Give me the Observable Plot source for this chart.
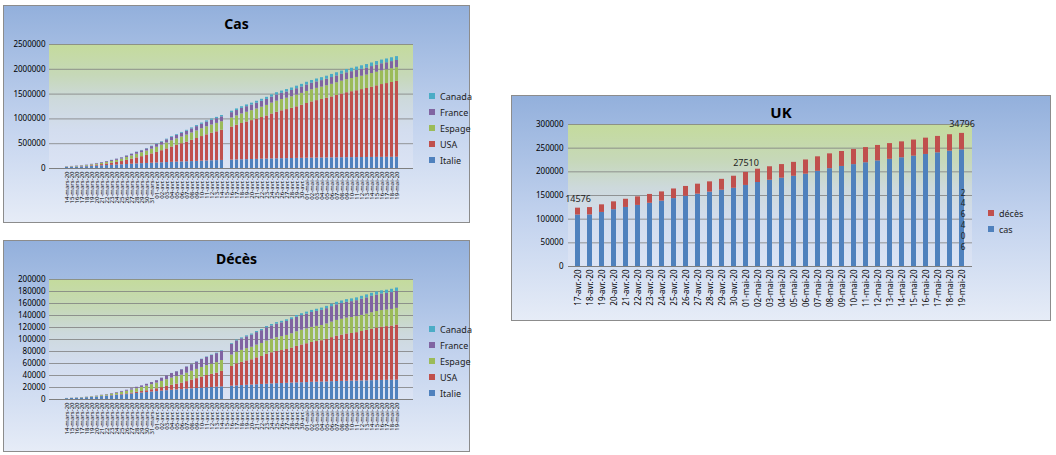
<!DOCTYPE html>
<html><head><meta charset="utf-8">
<script src="https://cdn.jsdelivr.net/npm/d3@7"></script>
<script src="https://cdn.jsdelivr.net/npm/@observablehq/plot@0.6"></script>
<style>
body{margin:0;background:#fff;font-family:"Noto Sans",sans-serif;width:1056px;height:455px;position:relative;overflow:hidden}
.panel{position:absolute;border:1px solid #8c8c8c;background:linear-gradient(#93b0dc,#c3d3ee 55%,#e6ecf7);box-sizing:border-box}
.title{position:absolute;left:0;right:0;text-align:center;font-weight:bold;font-size:14px;color:#000}
.pa{position:absolute;background:linear-gradient(#c4db9c,#c6d8b8 25%,#cdd9dc 45%,#d3ddef 70%,#dbe3f4)}
.chart{position:absolute}
.leg{position:absolute;font-size:9px;color:#222}
.leg div{height:16px;display:flex;align-items:center}
.leg span{display:inline-block;width:6px;height:6px;margin-right:5px}
</style></head><body>
<div class="panel" id="p1" style="left:3px;top:5px;width:467px;height:218px"></div>
<div class="panel" id="p2" style="left:3px;top:240px;width:467px;height:212px"></div>
<div class="panel" id="p3" style="left:511px;top:95px;width:540px;height:226px"></div>
<script>
const dates = ["14-mars-20","15-mars-20","16-mars-20","17-mars-20","18-mars-20","19-mars-20","20-mars-20","21-mars-20","22-mars-20","23-mars-20","24-mars-20","25-mars-20","26-mars-20","27-mars-20","28-mars-20","29-mars-20","30-mars-20","31-mars-20",
"01-avr.-20","02-avr.-20","03-avr.-20","04-avr.-20","05-avr.-20","06-avr.-20","07-avr.-20","08-avr.-20","09-avr.-20","10-avr.-20","11-avr.-20","12-avr.-20","13-avr.-20","14-avr.-20","15-avr.-20","16-avr.-20","17-avr.-20","18-avr.-20","19-avr.-20","20-avr.-20","21-avr.-20","22-avr.-20","23-avr.-20","24-avr.-20","25-avr.-20","26-avr.-20","27-avr.-20","28-avr.-20","29-avr.-20","30-avr.-20",
"01-mai-20","02-mai-20","03-mai-20","04-mai-20","05-mai-20","06-mai-20","07-mai-20","08-mai-20","09-mai-20","10-mai-20","11-mai-20","12-mai-20","13-mai-20","14-mai-20","15-mai-20","16-mai-20","17-mai-20","18-mai-20","19-mai-20"];
const gapDate = "15-avr.-20";
const countries = ["Italie","USA","Espage","France","Canada"];
const colors = ["#4f81bd","#c0504d","#9bbb59","#8064a2","#4bacc6"];
// cases, in thousands
const casItalie=[21.2,24.7,28.0,31.5,35.7,41.0,47.0,53.6,59.1,63.9,69.2,74.4,80.6,86.5,92.5,97.7,101.7,105.8,110.6,115.2,119.8,124.6,128.9,132.5,135.6,139.4,143.6,147.6,152.3,156.4,159.5,162.5,165.2,168.9,172.4,175.9,178.9,181.2,183.9,187.3,189.9,192.9,195.4,197.7,199.4,201.5,203.6,205.5,207.4,209.3,210.7,211.9,213.0,214.5,215.9,217.2,218.3,219.1,219.8,221.2,222.1,223.1,223.9,224.8,225.4,225.9,226.7];
const casUSA=[2.7,3.5,4.6,6.4,7.8,13.7,19.1,25.5,33.3,43.8,53.7,65.8,83.8,101.7,121.5,140.9,161.8,188.2,213.4,243.6,275.6,308.8,337.1,366.7,396.2,429.1,461.4,496.5,526.4,555.3,580.6,607.7,636.4,667.8,699.7,732.2,759.1,784.3,811.9,840.4,869.2,905.4,939.0,965.8,988.2,1012.6,1039.9,1069.4,1103.5,1133.1,1158.0,1180.4,1204.4,1228.6,1256.0,1283.9,1309.5,1329.3,1347.9,1369.4,1390.7,1417.8,1442.8,1467.8,1486.8,1508.3,1528.6];
const casEspage=[6.4,7.8,9.9,11.7,14.8,18.1,21.6,25.4,28.8,35.1,42.1,49.5,57.8,65.7,73.2,78.8,87.9,95.9,104.1,112.1,119.2,126.2,131.6,136.7,141.9,148.2,153.2,158.3,163.0,166.0,169.5,172.5,177.6,182.8,188.1,191.7,195.9,200.2,204.2,208.4,213.0,219.8,223.8,226.6,229.4,232.1,236.9,239.6,242.9,245.6,247.1,248.3,250.6,253.7,256.9,260.1,262.8,264.7,268.1,269.5,271.1,272.6,274.4,276.5,277.7,278.2,278.8];
const casFrance=[4.5,5.4,6.6,7.7,9.1,10.9,12.6,14.3,16.0,19.9,22.3,25.2,29.2,33.4,38.1,40.2,44.5,52.1,56.9,59.1,64.3,68.6,70.5,74.4,78.2,82.0,86.3,90.7,93.8,95.4,95.4,98.1,103.6,106.2,108.8,111.8,112.6,114.7,117.3,119.2,120.8,122.6,124.1,124.6,125.8,127.3,128.3,129.1,130.2,130.2,130.9,131.3,132.0,137.2,137.8,138.2,138.9,139.1,139.5,140.2,140.7,141.3,141.9,142.3,142.4,142.9,143.4];
const casCanada=[0.2,0.3,0.4,0.6,0.7,0.9,1.1,1.3,1.5,2.1,2.8,3.4,4.0,4.7,5.6,6.3,7.4,8.5,9.6,11.3,12.4,13.9,15.5,16.6,17.9,19.3,20.7,22.1,23.3,24.4,25.7,26.9,28.2,30.1,31.9,33.4,35.1,36.8,38.4,40.2,42.1,43.9,45.4,46.9,48.5,49.6,51.2,52.9,54.5,56.3,57.9,59.5,61.2,62.5,64.0,65.6,66.8,68.0,69.1,70.1,71.3,72.4,73.4,74.6,75.9,77.0,78.1];
// deaths, in thousands
const decItalie=[1.44,1.81,2.16,2.50,2.98,3.41,4.03,4.83,5.48,6.08,6.82,7.50,8.17,9.13,10.0,10.8,11.6,12.4,13.2,13.9,14.7,15.4,15.9,16.5,17.1,17.7,18.3,18.8,19.5,19.9,20.5,21.1,21.6,22.2,22.7,23.2,23.7,24.1,24.6,25.1,25.5,26.0,26.4,26.6,27.0,27.4,27.7,28.0,28.2,28.7,28.9,29.1,29.3,29.7,30.0,30.2,30.4,30.6,30.7,30.9,31.1,31.4,31.6,31.8,31.9,32.0,32.2];
const decUSA=[0.05,0.07,0.09,0.11,0.15,0.2,0.26,0.34,0.42,0.55,0.71,0.94,1.21,1.58,2.03,2.47,2.98,3.87,4.76,5.93,7.09,8.41,9.62,10.78,12.72,14.7,16.5,18.6,20.5,22.0,23.5,25.8,28.3,32.9,36.8,38.7,40.7,42.1,44.8,46.6,49.9,51.9,53.8,55.0,56.3,58.4,60.9,62.9,64.7,66.4,67.7,68.9,71.0,73.4,75.7,77.2,78.8,79.5,80.7,82.4,84.1,85.9,87.5,88.8,89.6,90.4,91.9];
const decEspage=[0.2,0.29,0.34,0.53,0.62,0.83,1.04,1.38,1.77,2.31,2.81,3.65,4.36,5.14,5.98,6.80,7.72,8.46,9.39,10.3,11.2,11.9,12.6,13.3,14.0,14.8,15.4,16.0,16.5,17.0,17.5,18.1,18.6,19.1,19.5,20.0,20.4,20.9,21.3,21.7,22.2,22.5,22.9,23.2,23.5,23.8,24.3,24.5,24.8,25.1,25.3,25.4,25.6,25.9,26.1,26.3,26.5,26.6,26.7,26.9,27.1,27.3,27.5,27.6,27.65,27.7,27.8];
const decFrance=[0.09,0.13,0.15,0.18,0.26,0.37,0.45,0.56,0.67,0.86,1.1,1.33,1.7,1.99,2.31,2.61,3.02,3.52,4.03,5.39,6.5,7.56,8.08,8.91,10.3,10.9,12.2,13.2,13.8,14.4,14.97,15.7,17.2,17.9,18.7,19.3,19.7,20.3,20.8,21.3,21.9,22.2,22.6,22.9,23.3,23.7,24.1,24.4,24.6,24.8,24.9,25.2,25.5,25.8,26.0,26.2,26.3,26.4,26.6,27.0,27.1,27.4,27.5,27.6,27.6,28.1,28.2];
const decCanada=[0.001,0.001,0.004,0.008,0.009,0.012,0.013,0.019,0.021,0.025,0.027,0.035,0.039,0.054,0.061,0.066,0.089,0.101,0.109,0.139,0.179,0.218,0.259,0.339,0.375,0.435,0.509,0.557,0.653,0.714,0.781,0.899,1.01,1.19,1.31,1.47,1.59,1.69,1.83,1.97,2.14,2.35,2.46,2.59,2.71,2.85,2.98,3.18,3.31,3.47,3.60,3.76,3.85,4.04,4.17,4.31,4.43,4.57,4.67,4.76,4.94,5.05,5.20,5.30,5.42,5.54,5.68];
// UK
const ukDates=["17-avr.-20","18-avr.-20","19-avr.-20","20-avr.-20","21-avr.-20","22-avr.-20","23-avr.-20","24-avr.-20","25-avr.-20","26-avr.-20","27-avr.-20","28-avr.-20","29-avr.-20","30-avr.-20","01-mai-20","02-mai-20","03-mai-20","04-mai-20","05-mai-20","06-mai-20","07-mai-20","08-mai-20","09-mai-20","10-mai-20","11-mai-20","12-mai-20","13-mai-20","14-mai-20","15-mai-20","16-mai-20","17-mai-20","18-mai-20","19-mai-20"];
const ukCas=[108692,109000,114217,120067,124743,129044,133495,138078,143464,148377,152840,157149,161145,165221,171253,177454,182260,186599,190584,194990,201101,206715,211364,215260,219183,223060,226463,229705,233151,236711,240161,243695,246406];
const ukDeces=[14576,15464,16060,16509,17337,18100,18738,19506,20319,20732,21092,21678,23000,25500,27510,28131,28446,28734,29427,30076,30615,31241,31587,31855,32065,32692,33186,33614,33998,34466,34636,34700,34796];
const ukLabels=[{i:0,t:"14576"},{i:14,t:"27510"},{i:32,t:"34796"}];

function stackChart(panel, title, series, yMax, yStep, legTop, H, mb){
  const data=[];
  dates.forEach((d,j)=>{ if(d===gapDate) return;
    countries.forEach((c,k)=>data.push({date:d,country:c,value:series[k][j]*1000}));});
  panel.insertAdjacentHTML("beforeend",`<div class="title" style="top:8px">${title}</div>`);
  const W=415, mt=13, ml=45, mr=6, top=25;
  panel.insertAdjacentHTML("beforeend",`<div class="pa" style="left:${ml}px;top:${top+mt}px;width:${W-ml-mr}px;height:${H-mt-mb}px"></div>`);
  const plot=Plot.plot({width:W,height:H,marginLeft:ml,marginRight:mr,marginTop:mt,marginBottom:mb,
    style:{background:"transparent",fontFamily:"Noto Sans",fontSize:"8px",color:"#000"},
    x:{domain:dates,padding:0.45,label:null,tickRotate:-90,tickSize:0},
    y:{domain:[0,yMax],label:null},
    color:{domain:countries,range:colors},
    marks:[
      Plot.gridY(d3.range(yStep,yMax+1,yStep),{stroke:"#7f7f7f",strokeOpacity:1,strokeWidth:0.8}),
      Plot.axisX({fontSize:6,tickRotate:-90,tickSize:0,tickPadding:3}),
      Plot.axisY({ticks:d3.range(0,yMax+1,yStep),tickSize:0,tickPadding:4,tickFormat:d=>String(d),fontSize:8}),
      Plot.barY(data,{x:"date",y:"value",fill:"country"}),
      Plot.ruleY([0],{stroke:"#7f7f7f"})
    ]});
  plot.classList.add("chart"); plot.style.left="0px"; plot.style.top=top+"px";
  panel.appendChild(plot);
  const leg=countries.map((c,k)=>({c,col:colors[k]})).reverse().map(o=>`<div><span style="background:${o.col}"></span>${o.c}</div>`).join("");
  panel.insertAdjacentHTML("beforeend",`<div class="leg" style="left:425px;top:${legTop}px">${leg}</div>`);
}
stackChart(document.getElementById("p1"),"Cas",[casItalie,casUSA,casEspage,casFrance,casCanada],2500000,500000,82,188,51);
stackChart(document.getElementById("p2"),"Décès",[decItalie,decUSA,decEspage,decFrance,decCanada],200000,20000,80,182,49);

// UK chart
(function(){
  const panel=document.getElementById("p3");
  panel.insertAdjacentHTML("beforeend",`<div class="title" style="top:6px;font-size:15px">UK</div>`);
  const W=470,H=222,ml=56,mr=10,mt=28,mb=52,top=0;
  panel.insertAdjacentHTML("beforeend",`<div class="pa" style="left:${ml}px;top:${top+mt}px;width:${W-ml-mr}px;height:${H-mt-mb}px"></div>`);
  const data=[];
  ukDates.forEach((d,j)=>{data.push({date:d,s:"cas",v:ukCas[j]});data.push({date:d,s:"décès",v:ukDeces[j]});});
  const lab=ukLabels.map(o=>({date:ukDates[o.i],y:ukCas[o.i]+ukDeces[o.i],t:o.t}));
  const plot=Plot.plot({width:W,height:H,marginLeft:ml,marginRight:mr,marginTop:mt,marginBottom:mb,
    style:{background:"transparent",fontFamily:"Noto Sans",fontSize:"8px",color:"#000"},
    x:{domain:ukDates,padding:0.55,label:null},
    y:{domain:[0,300000],label:null},
    color:{domain:["cas","décès"],range:["#4f81bd","#c0504d"]},
    marks:[
      Plot.gridY(d3.range(50000,300001,50000),{stroke:"#7f7f7f",strokeOpacity:1,strokeWidth:0.8}),
      Plot.axisX({fontSize:8,tickRotate:-90,tickSize:0,tickPadding:3}),
      Plot.axisY({ticks:d3.range(0,300001,50000),tickSize:0,tickPadding:5,tickFormat:d=>String(d),fontSize:8}),
      Plot.barY(data,{x:"date",y:"v",fill:"s"}),
      Plot.ruleY([0],{stroke:"#7f7f7f"}),
      Plot.text(lab,{x:"date",y:"y",text:"t",dy:-9,fontSize:9,fill:"#222"}),
      Plot.text([{date:ukDates[32],y:100000,t:String(ukCas[32]).split("").join("\n")}],{x:"date",y:"y",text:"t",dx:1,fontSize:8,lineHeight:1.35,fill:"#222"})
    ]});
  plot.classList.add("chart"); plot.style.left="0px"; plot.style.top=top+"px";
  panel.appendChild(plot);
  panel.insertAdjacentHTML("beforeend",`<div class="leg" style="left:476px;top:109px;font-size:9px"><div><span style="background:#c0504d"></span>décès</div><div><span style="background:#4f81bd"></span>cas</div></div>`);
})();
</script></body></html>
